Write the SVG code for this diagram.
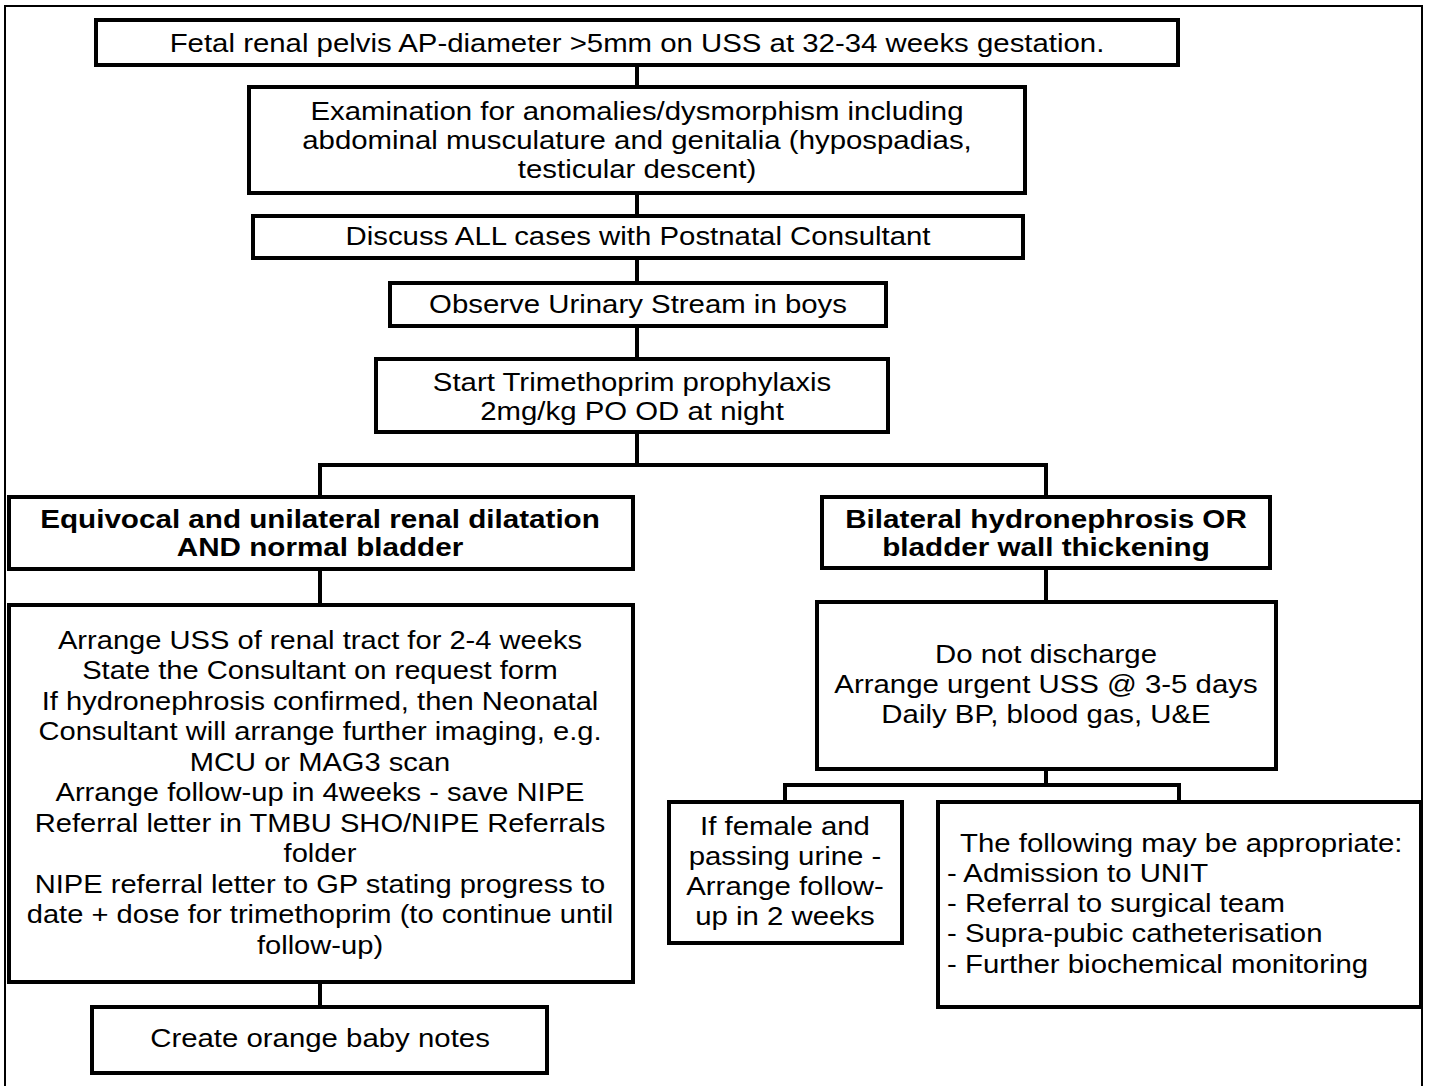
<svg xmlns="http://www.w3.org/2000/svg" width="1429" height="1086" viewBox="0 0 1429 1086">
<style>
.frame{fill:none;stroke:#000;stroke-width:2}
.box{fill:#fff;stroke:#000;stroke-width:4;stroke-linejoin:miter}
.con{fill:none;stroke:#000;stroke-width:4}
text{font-family:"Liberation Sans",Arial,sans-serif;font-size:26px;fill:#000}
.c{text-anchor:middle}
.b{font-weight:bold}
</style>
<rect width="1429" height="1086" fill="#fff"/>
<path class="frame" d="M5,1090 V6 H1422 V1090"/>
<g id="connectors">
<path class="con" d="M637,65 V87 M637,193 V216 M637,258 V283 M637,326 V359"/>
<path class="con" d="M637,432 V465 M320,497 V465 H1046 V497"/>
<path class="con" d="M320,569 V605 M1046,568 V602"/>
<path class="con" d="M1046,769 V785 M785,802 V785 H1179 V802"/>
<path class="con" d="M320,982 V1007"/>
</g>
<g id="n1"><rect class="box" x="96" y="20" width="1082" height="45"/>
<g transform="translate(637,0) scale(1.13,1)"><text class="c" x="0" y="52">Fetal renal pelvis AP-diameter &gt;5mm on USS at 32-34 weeks gestation.</text></g></g>
<g id="n2"><rect class="box" x="249" y="87" width="776" height="106"/>
<g transform="translate(637,0) scale(1.13,1)"><text class="c" x="0" y="120">Examination for anomalies/dysmorphism including</text><text class="c" x="0" y="149">abdominal musculature and genitalia (hypospadias,</text><text class="c" x="0" y="178">testicular descent)</text></g></g>
<g id="n3"><rect class="box" x="253" y="216" width="770" height="42"/>
<g transform="translate(638,0) scale(1.13,1)"><text class="c" x="0" y="245">Discuss ALL cases with Postnatal Consultant</text></g></g>
<g id="n4"><rect class="box" x="390" y="283" width="496" height="43"/>
<g transform="translate(638,0) scale(1.13,1)"><text class="c" x="0" y="313">Observe Urinary Stream in boys</text></g></g>
<g id="n5"><rect class="box" x="376" y="359" width="512" height="73"/>
<g transform="translate(632,0) scale(1.13,1)"><text class="c" x="0" y="391">Start Trimethoprim prophylaxis</text><text class="c" x="0" y="420">2mg/kg PO OD at night</text></g></g>
<g id="n6"><rect class="box" x="9" y="497" width="624" height="72"/>
<g transform="translate(320,0) scale(1.14,1)"><text class="c b" x="0" y="528">Equivocal and unilateral renal dilatation</text><text class="c b" x="0" y="556">AND normal bladder</text></g></g>
<g id="n7"><rect class="box" x="822" y="497" width="448" height="71"/>
<g transform="translate(1046,0) scale(1.14,1)"><text class="c b" x="0" y="528">Bilateral hydronephrosis OR</text><text class="c b" x="0" y="556">bladder wall thickening</text></g></g>
<g id="n8"><rect class="box" x="9" y="605" width="624" height="377"/>
<g transform="translate(320,0) scale(1.12,1)">
<text class="c" x="0" y="649">Arrange USS of renal tract for 2-4 weeks</text>
<text class="c" x="0" y="679.5">State the Consultant on request form</text>
<text class="c" x="0" y="710">If hydronephrosis confirmed, then Neonatal</text>
<text class="c" x="0" y="740.5">Consultant will arrange further imaging, e.g.</text>
<text class="c" x="0" y="771">MCU or MAG3 scan</text>
<text class="c" x="0" y="801.5">Arrange follow-up in 4weeks - save NIPE</text>
<text class="c" x="0" y="832">Referral letter in TMBU SHO/NIPE Referrals</text>
<text class="c" x="0" y="862.5">folder</text>
<text class="c" x="0" y="893">NIPE referral letter to GP stating progress to</text>
<text class="c" x="0" y="923.5">date + dose for trimethoprim (to continue until</text>
<text class="c" x="0" y="954">follow-up)</text>
</g></g>
<g id="n9"><rect class="box" x="817" y="602" width="459" height="167"/>
<g transform="translate(1046,0) scale(1.13,1)"><text class="c" x="0" y="663">Do not discharge</text><text class="c" x="0" y="693">Arrange urgent USS @ 3-5 days</text><text class="c" x="0" y="723">Daily BP, blood gas, U&amp;E</text></g></g>
<g id="n10"><rect class="box" x="669" y="802" width="233" height="141"/>
<g transform="translate(785,0) scale(1.13,1)"><text class="c" x="0" y="835">If female and</text><text class="c" x="0" y="865">passing urine -</text><text class="c" x="0" y="895">Arrange follow-</text><text class="c" x="0" y="925">up in 2 weeks</text></g></g>
<g id="n11"><rect class="box" x="938" y="802" width="483" height="205"/>
<g transform="translate(947,0) scale(1.13,1)"><text x="11.5" y="852">The following may be appropriate:</text><text x="0" y="882">- Admission to UNIT</text><text x="0" y="912">- Referral to surgical team</text><text x="0" y="942">- Supra-pubic catheterisation</text><text x="0" y="973">- Further biochemical monitoring</text></g></g>
<g id="n12"><rect class="box" x="92" y="1007" width="455" height="66"/>
<g transform="translate(320,0) scale(1.13,1)"><text class="c" x="0" y="1047">Create orange baby notes</text></g></g>
</svg>
